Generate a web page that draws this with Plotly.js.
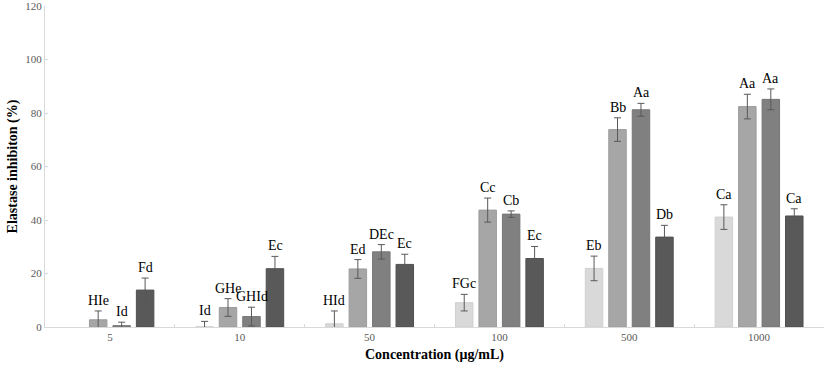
<!DOCTYPE html>
<html>
<head>
<meta charset="utf-8">
<script src="https://cdn.plot.ly/plotly-3.0.1.min.js"></script>
<style>html,body{margin:0;padding:0;background:#fff;}#chart{width:827px;height:369px;}</style>
</head>
<body>
<div id="chart"></div>
<script>
const categories = ["5", "10", "50", "100", "500", "1000"];
const series1 = [null, 0.1, 1.2, 9.1, 21.9, 41.1];
const series2 = [2.7, 7.3, 21.7, 43.7, 73.8, 82.4];
const series3 = [0.5, 3.9, 28.1, 42.2, 81.2, 85.1];
const series4 = [13.8, 21.8, 23.4, 25.6, 33.6, 41.5];
const err1 = [null, 2.0, 4.8, 3.1, 4.6, 4.6];
const err2 = [3.3, 3.3, 3.5, 4.5, 4.4, 4.6];
const err3 = [1.3, 3.5, 2.7, 1.2, 2.4, 3.9];
const err4 = [4.5, 4.6, 3.8, 4.5, 4.4, 2.7];
const labels1 = [null, "Id", "HId", "FGc", "Eb", "Ca"];
const labels2 = ["HIe", "GHe", "Ed", "Cc", "Bb", "Aa"];
const labels3 = ["Id", "GHId", "DEc", "Cb", "Aa", "Aa"];
const labels4 = ["Fd", "Ec", "Ec", "Ec", "Db", "Ca"];

const vals = [series1, series2, series3, series4];
const errs = [err1, err2, err3, err4];
const labs = [labels1, labels2, labels3, labels4];
const colors = ["#d9d9d9", "#a6a6a6", "#808080", "#595959"];
const edges = ["#d0d0d0", "#9c9c9c", "#767676", "#4f4f4f"];
const serif = "Liberation Serif, Times New Roman, serif";

const traces = vals.map((v, i) => ({
  type: "bar",
  x: categories,
  y: v,
  marker: {color: colors[i], line: {color: edges[i], width: 1}},
  error_y: {type: "data", array: errs[i], visible: true, color: "#595959", thickness: 1, width: 3.5},
  hoverinfo: "none"
}));

const annotations = [];
const slot = 23.5;
vals.forEach((v, i) => {
  v.forEach((val, j) => {
    if (labs[i][j] == null) return;
    annotations.push({
      x: j, y: val + errs[i][j], xref: "x", yref: "y",
      text: labs[i][j], showarrow: false,
      xshift: (i - 1.5) * slot, yanchor: "bottom", yshift: 1,
      font: {family: serif, size: 14, color: "#000000"}
    });
  });
});

const layout = {
  width: 827, height: 369,
  margin: {l: 45, r: 3, t: 6, b: 42},
  paper_bgcolor: "#fff", plot_bgcolor: "#fff",
  barmode: "group", bargap: 0.277, bargroupgap: 0.255,
  showlegend: false,
  font: {family: serif, color: "#595959"},
  xaxis: {
    type: "category", range: [-0.5, 5.5], autorange: false,
    showline: true, linecolor: "#d9d9d9", linewidth: 1,
    ticks: "inside", tickson: "boundaries", ticklen: 3, tickcolor: "#d9d9d9",
    showgrid: false, zeroline: false,
    tickfont: {size: 11, color: "#595959", family: serif},
    title: {text: "Concentration (μg/mL)", font: {size: 14, color: "#000000", family: serif, weight: "bold"}, standoff: 6}
  },
  yaxis: {
    range: [0, 120], autorange: false, dtick: 20,
    showline: true, linecolor: "#d9d9d9", linewidth: 1,
    ticks: "inside", ticklen: 3, tickcolor: "#d9d9d9",
    ticklabeloverflow: "allow",
    showgrid: false, zeroline: false,
    tickfont: {size: 11, color: "#595959", family: serif},
    title: {text: "Elastase inhibiton (%)", font: {size: 14, color: "#000000", family: serif, weight: "bold"}, standoff: 4}
  },
  annotations: annotations
};

Plotly.newPlot("chart", traces, layout, {displayModeBar: false, staticPlot: true});
</script>
</body>
</html>
